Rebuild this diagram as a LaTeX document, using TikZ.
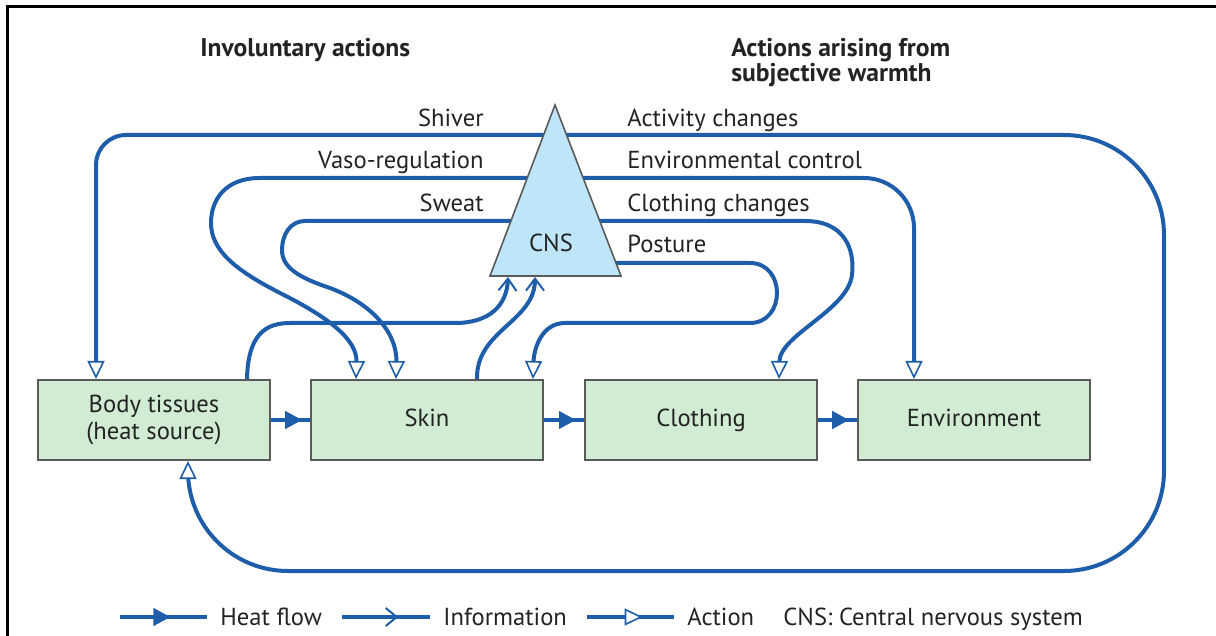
\documentclass[tikz,border=0pt]{standalone}
\usepackage{fontspec}
\setmainfont{PT Sans}
\usetikzlibrary{arrows.meta,calc,decorations.markings}
\definecolor{lineblue}{RGB}{30,93,170}
\definecolor{boxgreen}{RGB}{209,236,211}
\definecolor{boxedge}{RGB}{90,90,90}
\definecolor{cnsblue}{RGB}{190,230,248}
\definecolor{txt}{RGB}{35,35,35}
\tikzset{
  box/.style={draw=boxedge, line width=1pt, fill=boxgreen, minimum width=116pt, minimum height=40pt, align=center, text=txt, inner sep=0pt},
  onebox/.style={box, text height=8.8pt, text depth=2.6pt},
  lbl/.style={text=txt, inner sep=0pt},
  flow/.style={draw=lineblue, line width=2pt},
  action/.style={flow, -{Triangle[open, fill=white, length=9pt, width=8.5pt, line width=0.8pt]}},
  info/.style={flow, -{Straight Barb[length=6pt, width=9pt, line width=1pt]}},
  heatmid/.style={flow, postaction={decorate}, decoration={markings, mark=at position #1 with {\arrow{Triangle[length=8.5pt, width=8.5pt]}}}},
  infomid/.style={flow, postaction={decorate}, decoration={markings, mark=at position #1 with {\arrow{Straight Barb[length=5.5pt, width=9pt, line width=1pt]}}}},
  actmid/.style={flow, postaction={decorate}, decoration={markings, mark=at position #1 with {\arrow{Triangle[open, fill=white, length=9pt, width=8.5pt, line width=0.8pt]}}}},
  headfont/.style={font=\fontsize{12.8}{14.5}\selectfont\bfseries},
}
\begin{document}
\begin{tikzpicture}[x=0.5pt, y=-0.5pt, font=\fontsize{12.3}{13.5}\selectfont]
\useasboundingbox (0,0) rectangle (1216,636);
% frame
\coordinate (f1) at (1216,7);
\coordinate (f2) at (7,7);
\coordinate (f3) at (7,636);
\draw[line width=1.5pt, black] (f1) -- (f2) -- (f3);

% headings
\node[lbl, headfont, anchor=base west] (h1) at (200,57) {Involuntary actions};
\node[lbl, headfont, anchor=base west] (h2) at (731,57) {Actions arising from};
\node[lbl, headfont, anchor=base west] (h3) at (731,82) {subjective warmth};

% boxes
\node[box] (body) at (154,420) {Body tissues\\(heat source)};
\node[onebox] (skin) at (427,420) {Skin};
\node[onebox] (cloth) at (701,420) {Clothing};
\node[onebox] (env) at (974,420) {Environment};

% heat flow
\draw[heatmid=0.8] (body.east) -- (skin.west);
\draw[heatmid=0.8] (skin.east) -- (cloth.west);
\draw[heatmid=0.8] (cloth.east) -- (env.west);

% triangle points
\coordinate (apex) at (555,105);
\coordinate (bl) at (490,276);
\coordinate (br) at (621,276);
\coordinate (cshL) at (548,135);
\coordinate (cvaL) at (535,178);
\coordinate (cswL) at (520,221);
\coordinate (cacR) at (560,135);
\coordinate (cenR) at (575,178);
\coordinate (cclR) at (590,221);
\coordinate (cpoR) at (605,263);
\coordinate (infoT1) at (508,277);
\coordinate (infoT2) at (535,277);
\coordinate (rc) at (1164,571);

% end points on boxes
\coordinate (bShiv) at ($(body.north west)+(59,0)$);
\coordinate (bInfo) at ($(body.north west)+(210,0)$);
\coordinate (bBot) at ($(body.south west)+(151,0)$);
\coordinate (sVaso) at ($(skin.north west)+(46,0)$);
\coordinate (sSweat) at ($(skin.north west)+(86,0)$);
\coordinate (sInfo) at ($(skin.north west)+(167,0)$);
\coordinate (sPost) at ($(skin.north west)+(223,0)$);
\coordinate (cClo) at ($(cloth.north west)+(195,0)$);
\coordinate (eEnv) at ($(env.north west)+(57,0)$);

% action lines
\draw[action, rounded corners=15pt] (cshL) -| (bShiv);
\draw[action] (cvaL) -- (260,178) .. controls (225,178) and (211,200) .. (211,223)
   .. controls (211,250) and (235,270) .. (280,293) .. controls (330,318) and (357,340) .. (sVaso);
\draw[action] (cswL) -- (305,221) .. controls (290,221) and (282,235) .. (282,250)
   .. controls (282,268) and (300,278) .. (330,288) .. controls (375,305) and (397,335) .. (sSweat);
\draw[action] (cpoR) -- (750,263) .. controls (786,263) and (786,323) .. (750,323) -- (565,323)
   .. controls (542,323) and (534,348) .. (sPost);
\draw[action] (cclR) -- (805,221) .. controls (845,221) and (855,250) .. (852,275)
   .. controls (848,310) and (780,335) .. (cClo);
\draw[action, rounded corners=25pt] (cenR) -| (eEnv);
\draw[action, rounded corners=50pt] (cacR) -| (rc) -| (bBot);

% CNS triangle
\draw[draw=boxedge, line width=0.8pt, fill=cnsblue] (apex) -- (bl) -- (br) -- cycle;
\node[lbl, anchor=base] (cns) at (551,252) {CNS};

% information arrows
\draw[info] (bInfo) .. controls (248,335) and (265,323) .. (290,323) -- (455,323)
   .. controls (490,323) and (507,305) .. (infoT1);
\draw[info] (sInfo) .. controls (476,330) and (535,322) .. (infoT2);

% labels
\node[lbl, anchor=base east] (lshiv) at (484,127) {Shiver};
\node[lbl, anchor=base east] (lvaso) at (484,169) {Vaso-regulation};
\node[lbl, anchor=base east] (lsweat) at (484,212) {Sweat};
\node[lbl, anchor=base west] (lact) at (627,127) {Activity changes};
\node[lbl, anchor=base west] (lenv) at (627,169) {Environmental control};
\node[lbl, anchor=base west] (lclo) at (627,212) {Clothing changes};
\node[lbl, anchor=base west] (lpos) at (627,253) {Posture};

% legend
\coordinate (k1a) at (120,617); \coordinate (k1b) at (207,617);
\coordinate (k2a) at (342,617); \coordinate (k2b) at (430,617);
\coordinate (k3a) at (587,617); \coordinate (k3b) at (674,617);
\draw[heatmid=0.58] (k1a) -- (k1b);
\draw[infomid=0.64] (k2a) -- (k2b);
\draw[actmid=0.64] (k3a) -- (k3b);
\node[lbl, anchor=base west] (t1) at (220,625) {Heat flow};
\node[lbl, anchor=base west] (t2) at (443,625) {Information};
\node[lbl, anchor=base west] (t3) at (687,625) {Action};
\node[lbl, anchor=base west] (t4) at (783,625) {CNS: Central nervous system};
\end{tikzpicture}
\end{document}
